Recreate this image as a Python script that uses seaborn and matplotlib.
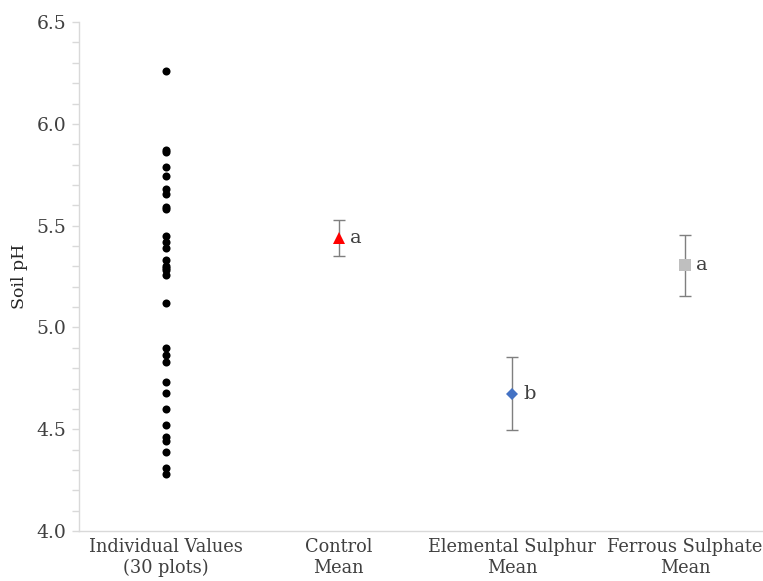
import matplotlib
matplotlib.use("Agg")
import matplotlib.pyplot as plt
from matplotlib.ticker import MultipleLocator
import seaborn as sns
import pandas as pd

categories = ["Individual Values\n(30 plots)", "Control\nMean",
              "Elemental Sulphur\nMean", "Ferrous Sulphate\nMean"]
individual_values = [6.26, 5.87, 5.86, 5.79, 5.745, 5.68, 5.655, 5.59, 5.58,
                     5.45, 5.42, 5.39, 5.33, 5.30, 5.29, 5.28, 5.26, 5.12,
                     4.90, 4.865, 4.83, 4.73, 4.68, 4.60, 4.52, 4.46, 4.44,
                     4.39, 4.31, 4.28]
mean_values = [5.44, 4.675, 5.305]
mean_errors = [0.09, 0.18, 0.15]
mean_letters = ["a", "b", "a"]
mean_markers = ["^", "D", "s"]
mean_colors = ["#FF0000", "#4472C4", "#BFBFBF"]
mean_sizes = [8, 6, 9]
y_ticks = [4.0, 4.5, 5.0, 5.5, 6.0, 6.5]

sns.set_style("white")
plt.rcParams["font.family"] = ["DejaVu Serif"]

fig = plt.figure(figsize=(7.63, 5.81), dpi=100)
ax = fig.add_axes([0.1035, 0.086, 0.8965, 0.876])

df = pd.DataFrame({"group": [categories[0]] * len(individual_values),
                   "pH": individual_values})
sns.stripplot(data=df, x="group", y="pH", order=categories, jitter=False,
              color="black", size=5.8, linewidth=0, ax=ax)

for k, (m, e, lab, mk, c, s) in enumerate(zip(mean_values, mean_errors, mean_letters,
                                              mean_markers, mean_colors, mean_sizes)):
    xi = categories.index(categories[k + 1])
    ax.errorbar([xi], [m], yerr=[e], fmt="none", ecolor="#7F7F7F",
                elinewidth=1, capsize=4, capthick=1, zorder=2)
    ax.plot([xi], [m], marker=mk, color=c, markersize=s, linestyle="none",
            markeredgewidth=0, zorder=3)
    ax.text(xi + 0.065, m, lab, va="center", ha="left", fontsize=14, color="#404040")

ax.set_xlim(-0.5, 3.45)
ax.set_ylim(4.0, 6.5)
ax.set_yticks(y_ticks)
ax.set_yticklabels([f"{t:.1f}" for t in y_ticks])
ax.yaxis.set_minor_locator(MultipleLocator(0.1))
ax.tick_params(axis="y", which="both", direction="out", length=5, width=1,
               color="#D9D9D9", left=True, labelsize=13.5, labelcolor="#404040", pad=4)
ax.tick_params(axis="x", which="both", length=0, labelsize=12.8,
               labelcolor="#404040", pad=5)
ax.set_xlabel("")
ax.set_ylabel("Soil pH", fontsize=12.5, color="#262626", labelpad=6)

for side in ["top", "right"]:
    ax.spines[side].set_visible(False)
for side in ["left", "bottom"]:
    ax.spines[side].set_color("#D9D9D9")
    ax.spines[side].set_linewidth(1)

fig.savefig("out.png", dpi=100)
